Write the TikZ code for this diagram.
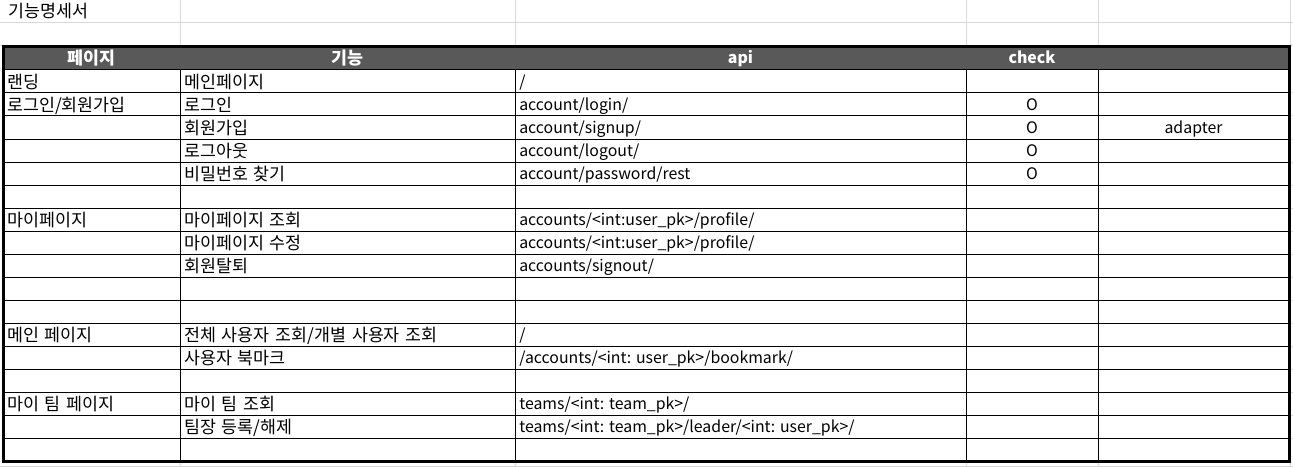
\documentclass[tikz,border=0pt]{standalone}
\usepackage{fontspec}
\setmainfont{Noto Sans CJK KR}
\newfontfamily\kfont[WordSpace=1.5]{Noto Sans CJK KR}
\definecolor{headgray}{HTML}{595959}
\definecolor{gridgray}{HTML}{D9D9D9}
\begin{document}
\begin{tikzpicture}[x=0.75pt,y=-0.75pt]
				\tikzstyle{cell}=[anchor=base west,inner sep=0pt,font=\fontsize{11.9}{14}\selectfont]
				\tikzstyle{kcell}=[cell,yshift=-0.75pt,font=\kfont\fontsize{13}{15}\selectfont]
				\tikzstyle{mid}=[cell,anchor=base]
				\tikzstyle{head}=[mid,text=white,font=\fontsize{11.9}{14}\selectfont\bfseries]
				\tikzstyle{khead}=[head,yshift=-0.75pt,font=\kfont\fontsize{13}{15}\selectfont\bfseries]
				\tikzstyle{rule}=[line width=0.75pt,black]
				\tikzstyle{grid}=[line width=0.75pt,gridgray]
				\useasboundingbox (0,0) rectangle (1293,467);
				% sheet grid outside the table
				\draw[grid] (0,23) -- (1293,23);
				\draw[grid] (0,46) -- (1293,46);
				\draw[grid] (0,466) -- (1293,466);
				\foreach \c in {180,515,966,1098,1290}
					\draw[grid] (\c,0) -- (\c,46) (\c,461) -- (\c,467);
				\foreach \r in {1,...,16}
					\draw[grid] (1289,{70+\r*23}) -- (1293,{70+\r*23});
				\node[kcell] (title) at (8,16.5) {기능명세서};
				% table
				\fill[headgray] (3,46) rectangle (1289,70);
				\draw[rule] (3,70) -- (1289,70);
				\foreach \r in {1,...,16}
					\draw[rule] (3,{70+\r*23}) -- (1289,{70+\r*23});
				\foreach \c in {180,515,966,1098}
					\draw[rule] (\c,70) -- (\c,461);
				\draw[line width=2.25pt] (3,46.5) rectangle (1289,461.5);
				\node[khead] (h1) at (91.5,64) {페이지};
				\node[khead] (h2) at (347.5,64) {기능};
				\node[head] (h3) at (740.5,64) {api};
				\node[head] (h4) at (1032,64) {check};
				% rows
				\node[kcell] (p1) at (7,87.5) {랜딩};
				\node[kcell] (f1) at (184,87.5) {메인페이지};
				\node[cell] (a1) at (519,87.5) {/};
				\node[kcell] (p2) at (7,110.5) {로그인/회원가입};
				\node[kcell] (f2) at (184,110.5) {로그인};
				\node[cell] (a2) at (519,110.5) {account/login/};
				\node[mid] (c2) at (1032,110.5) {O};
				\node[kcell] (f3) at (184,133.5) {회원가입};
				\node[cell] (a3) at (519,133.5) {account/signup/};
				\node[mid] (c3) at (1032,133.5) {O};
				\node[mid] (e3) at (1193.5,133.5) {adapter};
				\node[kcell] (f4) at (184,156.5) {로그아웃};
				\node[cell] (a4) at (519,156.5) {account/logout/};
				\node[mid] (c4) at (1032,156.5) {O};
				\node[kcell] (f5) at (184,179.5) {비밀번호 찾기};
				\node[cell] (a5) at (519,179.5) {account/password/rest};
				\node[mid] (c5) at (1032,179.5) {O};
				\node[kcell] (p7) at (7,225.5) {마이페이지};
				\node[kcell] (f7) at (184,225.5) {마이페이지 조회};
				\node[cell] (a7) at (519,225.5) {accounts/<int:user\_pk>/profile/};
				\node[kcell] (f8) at (184,248.5) {마이페이지 수정};
				\node[cell] (a8) at (519,248.5) {accounts/<int:user\_pk>/profile/};
				\node[kcell] (f9) at (184,271.5) {회원탈퇴};
				\node[cell] (a9) at (519,271.5) {accounts/signout/};
				\node[kcell] (p12) at (7,340.5) {메인 페이지};
				\node[kcell] (f12) at (184,340.5) {전체 사용자 조회/개별 사용자 조회};
				\node[cell] (a12) at (519,340.5) {/};
				\node[kcell] (f13) at (184,363.5) {사용자 북마크};
				\node[cell] (a13) at (519,363.5) {/accounts/<int: user\_pk>/bookmark/};
				\node[kcell] (p15) at (7,409.5) {마이 팀 페이지};
				\node[kcell] (f15) at (184,409.5) {마이 팀 조회};
				\node[cell] (a15) at (519,409.5) {teams/<int: team\_pk>/};
				\node[kcell] (f16) at (184,432.5) {팀장 등록/해제};
				\node[cell] (a16) at (519,432.5) {teams/<int: team\_pk>/leader/<int: user\_pk>/};
\end{tikzpicture}
\end{document}
